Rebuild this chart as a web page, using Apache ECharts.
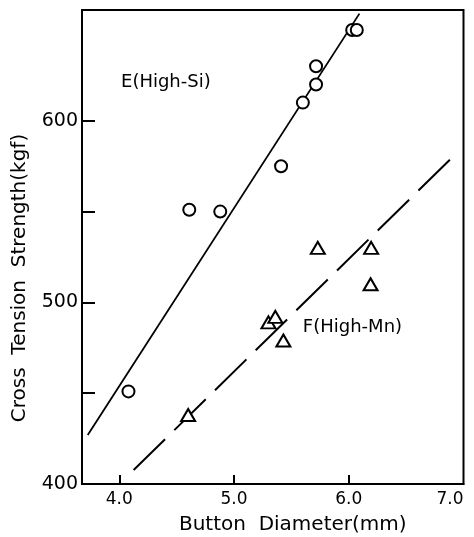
<!DOCTYPE html>
<html>
<head>
<meta charset="utf-8">
<script src="https://cdn.jsdelivr.net/npm/echarts@6/dist/echarts.min.js"></script>
<style>
  html, body { margin: 0; padding: 0; background: #fff; }
  #main { width: 474px; height: 537px; }
</style>
</head>
<body>
<div id="main"></div>
<script>
// E (High-Si) measured points
const eDiameter = [4.08, 4.61, 4.88, 5.41, 5.60, 5.715, 5.715, 6.03, 6.07];
const eStrength = [451, 551, 550, 575, 610, 620, 630, 650, 650];
// F (High-Mn) measured points
const fDiameter = [4.60, 5.30, 5.36, 5.43, 5.73, 6.195, 6.19];
const fStrength = [438, 489, 492, 479, 530, 530, 510];
// fitted lines (end points)
const eFitX = [3.725, 6.093];
const eFitY = [427, 659];
const fFitX = [4.125, 6.945];
const fFitY = [407.7, 582.5];
// tick labels
const xTicks = [4.0, 5.0, 6.0, 7.0];
const yTicks = [400, 450, 500, 550, 600];
const yLabels = [400, 500, 600];
// annotation texts (data coords)
const notes = [
  { text: "E(High-Si)", x: 4.015, y: 621 },
  { text: "F(High-Mn)", x: 5.60, y: 486 }
];

const font = "DejaVu Sans";
const zip = (a, b) => a.map((v, i) => [v, b[i]]);

let chart = echarts.init(document.getElementById("main"));
let option = {
  backgroundColor: "#fff",
  animation: false,
  textStyle: { fontFamily: font, color: "#000" },
  grid: {
    left: 82, right: 10.5, top: 10, bottom: 53,
    outerBoundsMode: "none",
    containLabel: false,
    show: true, borderColor: "#000", borderWidth: 2
  },
  xAxis: {
    type: "value",
    min: 3.675,
    max: 7.0,
    name: "Button  Diameter(mm)",
    nameLocation: "middle",
    nameGap: 31,
    nameTextStyle: { fontSize: 20, color: "#000", fontFamily: font, padding: [0, 0, 0, 40] },
    splitLine: { show: false },
    axisLine: { show: true, lineStyle: { color: "#000", width: 2 } },
    axisTick: {
      show: true, inside: true, length: 9,
      customValues: [4, 5, 6],
      lineStyle: { color: "#000", width: 2 }
    },
    axisLabel: {
      customValues: xTicks,
      formatter: (v) => v.toFixed(1),
      alignMaxLabel: "right",
      fontSize: 17, color: "#000", margin: 7, fontFamily: font
    }
  },
  yAxis: {
    type: "value",
    min: 400,
    max: 661,
    name: "Cross  Tension  Strength(kgf)",
    nameLocation: "middle",
    nameGap: 52,
    nameTextStyle: { fontSize: 20, color: "#000", fontFamily: font, padding: [0, 62, 0, 0] },
    splitLine: { show: false },
    axisLine: { show: true, lineStyle: { color: "#000", width: 2 } },
    axisTick: {
      show: true, inside: true, length: 13,
      customValues: yTicks,
      lineStyle: { color: "#000", width: 2 }
    },
    axisLabel: {
      customValues: yLabels,
      fontSize: 19, color: "#000", margin: 4, fontFamily: font
    }
  },
  series: [
    {
      name: "E fit",
      type: "line",
      data: zip(eFitX, eFitY),
      showSymbol: false,
      lineStyle: { color: "#000", width: 1.8 },
      z: 2
    },
    {
      name: "F fit",
      type: "line",
      data: zip(fFitX, fFitY),
      showSymbol: false,
      lineStyle: { color: "#000", width: 2, type: [44, 13] },
      z: 2
    },
    {
      name: "E(High-Si)",
      type: "scatter",
      data: zip(eDiameter, eStrength),
      symbol: "circle",
      symbolSize: 12,
      itemStyle: { color: "#fff", borderColor: "#000", borderWidth: 2, opacity: 1 },
      z: 3
    },
    {
      name: "F(High-Mn)",
      type: "scatter",
      data: zip(fDiameter, fStrength),
      symbol: "triangle",
      symbolSize: [14, 12],
      itemStyle: { color: "#fff", borderColor: "#000", borderWidth: 2, opacity: 1 },
      z: 3
    },
    {
      name: "notes",
      type: "scatter",
      symbolSize: 0,
      itemStyle: { opacity: 1 },
      data: notes.map((n) => ({ value: [n.x, n.y], label: { formatter: n.text } })),
      label: {
        show: true,
        position: "right",
        distance: 0,
        fontSize: 18,
        color: "#000",
        fontFamily: font
      },
      silent: true,
      z: 4
    }
  ]
};
chart.setOption(option);
</script>
</body>
</html>
